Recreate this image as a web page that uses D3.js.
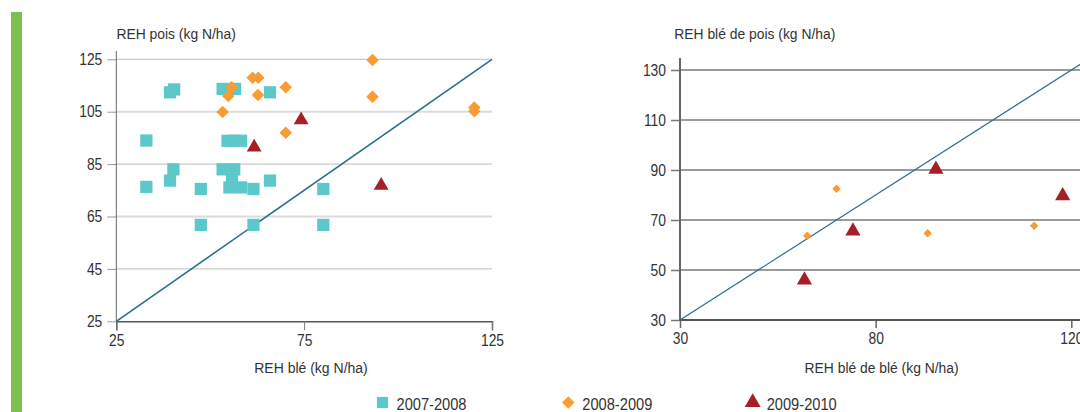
<!DOCTYPE html>
<html>
<head>
<meta charset="utf-8">
<script src="https://cdn.jsdelivr.net/npm/d3@7"></script>
<style>
  html, body { margin: 0; padding: 0; background: #fff; }
  svg text { font-family: "Liberation Sans", Arial, sans-serif; fill: #333; }
</style>
</head>
<body>
<svg id="chart" width="1080" height="412"></svg>
<script>
// ---------- DATA ----------
// Left panel: REH blé (x) vs REH pois (y)
const left2007x = [33, 33, 39.3, 40.4, 40.2, 39.3, 47.5, 47.5, 53.3, 56.6, 65.9, 54.6, 56.4, 58.2, 53.3, 56.4, 55.8, 55.1, 58.2, 61.5, 61.5, 65.9, 80.1, 80.1];
const left2007y = [94, 76.3, 112.4, 113.5, 83, 78.7, 75.5, 61.8, 113.7, 113.7, 112.4, 93.9, 93.9, 93.9, 83, 83, 79.7, 76.1, 76.1, 75.5, 61.8, 78.7, 75.5, 61.8];
const left2008x = [93.2, 93.2, 61.3, 62.8, 62.7, 70.1, 70.1, 55.7, 54.8, 53.3, 120.3, 120.3];
const left2008y = [124.7, 110.7, 118, 118, 111.4, 114.3, 97, 114.3, 111, 104.9, 106.6, 105.2];
const left2009x = [74.2, 61.7, 95.5];
const left2009y = [101.8, 91.4, 76.8];
// Right panel: REH blé de blé (x) vs REH blé de pois (y)
const right2008x = [62.5, 70, 93.3, 120.5];
const right2008y = [63.7, 82.5, 64.7, 67.7];
const right2009x = [61.8, 74.2, 95.4, 127.8];
const right2009y = [46, 65.6, 90.3, 79.7];

const leftXTicks = [25, 75, 125];
const leftYTicks = [25, 45, 65, 85, 105, 125];
const rightXTicks = [30, 80, 130];
const rightXTickLabels = ["30", "80", "120"];
const rightYTicks = [30, 50, 70, 90, 110, 130];

const seriesNames = ["2007-2008", "2008-2009", "2009-2010"];
const seriesColors = ["#5dc8c9", "#f99c33", "#a61f26"];

// ---------- DRAW ----------
const svg = d3.select("#chart");
const font = 16;
const squeezeK = 0.865;

function squeeze(sel, k) {
  sel.each(function () {
    const w = this.getComputedTextLength();
    d3.select(this).attr("textLength", w * k).attr("lengthAdjust", "spacingAndGlyphs");
  });
}
function fit(sel, w) {
  sel.attr("textLength", w).attr("lengthAdjust", "spacingAndGlyphs");
}

// green side bar
svg.append("rect").attr("x", 11).attr("y", 12).attr("width", 11).attr("height", 400).attr("fill", "#7dc04f");

function zip(xs, ys) { return xs.map((x, i) => [x, ys[i]]); }

// ---- left panel ----
{
  const x = d3.scaleLinear().domain([25, 125]).range([116.3, 492]);
  const y = d3.scaleLinear().domain([25, 125]).range([321.3, 59.3]);
  const g = svg.append("g");
  g.selectAll("line.grid").data(leftYTicks.filter(d => d > 25)).join("line")
    .attr("x1", x(25)).attr("x2", x(125))
    .attr("y1", d => y(d)).attr("y2", d => y(d))
    .attr("stroke", d => (d === 105 || d === 65) ? "#dcdcdc" : "#bdbdbd")
    .attr("stroke-width", d => (d === 105 || d === 65) ? 2 : 1);
  const ya = d3.axisLeft(y).tickValues(leftYTicks).tickSize(9).tickPadding(5).tickFormat(d3.format("d"));
  const yg = g.append("g").attr("transform", `translate(${x(25)},0)`).call(ya);
  yg.select(".domain").remove();
  yg.selectAll(".tick line").attr("stroke", "#999");
  yg.selectAll("text").style("font-size", font + "px").call(squeeze, squeezeK);
  g.append("line").attr("x1", x(25)).attr("x2", x(25)).attr("y1", 51).attr("y2", y(25)).attr("stroke", "#666").attr("stroke-width", 1);
  const xa = d3.axisBottom(x).tickValues(leftXTicks).tickSize(9).tickPadding(4).tickFormat(d3.format("d"));
  const xg = g.append("g").attr("transform", `translate(0,${y(25)})`).call(xa);
  xg.select(".domain").attr("stroke", "#555").attr("stroke-width", 1.5);
  xg.selectAll(".tick line").attr("stroke", "#777");
  xg.selectAll("text").style("font-size", font + "px").call(squeeze, squeezeK);
  g.append("line").attr("x1", x(25)).attr("y1", y(25)).attr("x2", x(125)).attr("y2", y(125))
    .attr("stroke", "#2b6f8d").attr("stroke-width", 1.6);
  const sq = d3.symbol().type(d3.symbolSquare).size(150);
  const di = d3.symbol().type(d3.symbolDiamond2).size(100);
  const tr = d3.symbol().type(d3.symbolTriangle).size(95);
  g.selectAll("path.s0").data(zip(left2007x, left2007y)).join("path")
    .attr("d", sq).attr("transform", d => `translate(${x(d[0])},${y(d[1])})`).attr("fill", seriesColors[0]);
  g.selectAll("path.s1").data(zip(left2008x, left2008y)).join("path")
    .attr("d", di).attr("transform", d => `translate(${x(d[0])},${y(d[1])})`).attr("fill", seriesColors[1]);
  g.selectAll("path.s2").data(zip(left2009x, left2009y)).join("path")
    .attr("d", tr).attr("transform", d => `translate(${x(d[0])},${y(d[1])})`).attr("fill", seriesColors[2]);
  g.append("text").attr("x", 116.4).attr("y", 39.3).style("font-size", "15.5px").text("REH pois (kg N/ha)").call(fit, 119.5);
  g.append("text").attr("x", 311).attr("y", 372.7).attr("text-anchor", "middle").style("font-size", "15.5px").text("REH blé (kg N/ha)").call(fit, 113.6);
}

// ---- right panel ----
{
  const x = d3.scaleLinear().domain([30, 130]).range([680, 1071.3]);
  const y = d3.scaleLinear().domain([30, 130]).range([320, 70]);
  const g = svg.append("g");
  g.selectAll("line.grid").data(rightYTicks.filter(d => d > 30)).join("line")
    .attr("x1", x(30)).attr("x2", 1080)
    .attr("y1", d => y(d)).attr("y2", d => y(d))
    .attr("stroke", "#7a7a7a").attr("stroke-width", 1.6);
  const ya = d3.axisLeft(y).tickValues(rightYTicks).tickSize(9).tickPadding(5).tickFormat(d3.format("d"));
  const yg = g.append("g").attr("transform", `translate(${x(30)},0)`).call(ya);
  yg.select(".domain").remove();
  yg.selectAll(".tick line").attr("stroke", "#777").attr("stroke-width", 1.5);
  yg.selectAll("text").style("font-size", font + "px").call(squeeze, squeezeK);
  g.append("line").attr("x1", x(30)).attr("x2", x(30)).attr("y1", 58).attr("y2", y(30)).attr("stroke", "#666").attr("stroke-width", 2);
  const xa = d3.axisBottom(x).tickValues(rightXTicks).tickSize(8).tickPadding(5).tickFormat((d, i) => rightXTickLabels[i]);
  const xg = g.append("g").attr("transform", `translate(0,${y(30)})`).call(xa);
  xg.select(".domain").remove();
  g.append("line").attr("x1", x(30)).attr("x2", 1080).attr("y1", y(30)).attr("y2", y(30)).attr("stroke", "#555").attr("stroke-width", 2);
  xg.selectAll(".tick line").attr("stroke", "#666").attr("stroke-width", 1.5);
  xg.selectAll("text").style("font-size", font + "px").call(squeeze, squeezeK);
  g.append("line").attr("x1", x(30)).attr("y1", y(30)).attr("x2", x(133)).attr("y2", y(133))
    .attr("stroke", "#2b6f8d").attr("stroke-width", 1.2);
  const di = d3.symbol().type(d3.symbolDiamond2).size(45);
  const tr = d3.symbol().type(d3.symbolTriangle).size(100);
  g.selectAll("path.s1").data(zip(right2008x, right2008y)).join("path")
    .attr("d", di).attr("transform", d => `translate(${x(d[0])},${y(d[1])})`).attr("fill", seriesColors[1]);
  g.selectAll("path.s2").data(zip(right2009x, right2009y)).join("path")
    .attr("d", tr).attr("transform", d => `translate(${x(d[0])},${y(d[1])})`).attr("fill", seriesColors[2]);
  g.append("text").attr("x", 674.3).attr("y", 39.3).style("font-size", "15.5px").text("REH blé de pois (kg N/ha)").call(fit, 161);
  g.append("text").attr("x", 881.6).attr("y", 372.7).attr("text-anchor", "middle").style("font-size", "15.5px").text("REH blé de blé (kg N/ha)").call(fit, 154);
}

// ---- legend ----
{
  const lx = [382.5, 568.3, 752.7];
  const g = svg.append("g");
  const shapes = [d3.symbolSquare, d3.symbolDiamond2, d3.symbolTriangle];
  const sizes = [125, 100, 110];
  seriesNames.forEach((name, i) => {
    g.append("path").attr("d", d3.symbol().type(shapes[i]).size(sizes[i]))
      .attr("transform", `translate(${lx[i]},${402.5})`).attr("fill", seriesColors[i]);
    g.append("text").attr("x", lx[i] + 14).attr("y", 409.5).style("font-size", font + "px").text(name).call(fit, 70);
  });
}
</script>
</body>
</html>
